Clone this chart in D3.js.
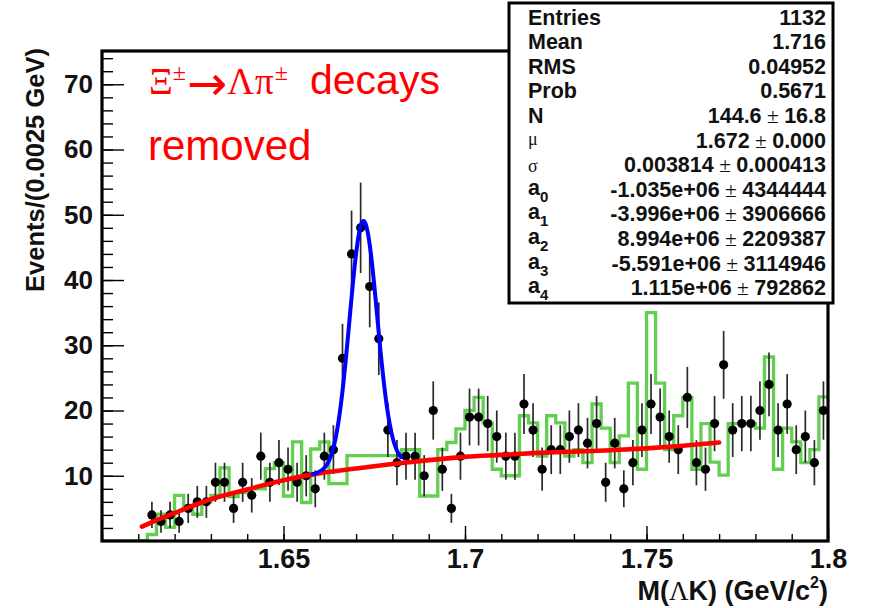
<!DOCTYPE html>
<html>
<head>
<meta charset="utf-8">
<script src="https://cdn.jsdelivr.net/npm/d3@7"></script>
<style>
  html, body { margin: 0; padding: 0; background: #fff; }
  svg { display: block; }
</style>
</head>
<body>
<svg id="chart" width="874" height="608"></svg>
<script>
// ---- data: Lambda-K invariant mass, 80 bins of 0.0025 GeV from 1.6 GeV ----
const binLow = 1.6;
const binWidth = 0.0025;
const dataCounts = [
  0, 0, 0, 0, 0,   4, 3, 4, 3, 5,   6, 6, 9, 9, 5,   9, 7, 13, 9, 12,
  11, 9, 10, 8, 13,   14, 28, 44, 48, 39,   31, 17, 12, 13, 13,   10, 20, 11, 5, 13,
  19, 19, 18, 16, 13,   13, 21, 17, 11, 14,   14, 16, 17, 15, 18,   9, 15, 8, 12, 17,
  21, 19, 16, 14, 22,   12, 11, 18, 27, 17,   18, 18, 20, 24, 17,   21, 14, 16, 12, 20
];
// comparison sample (green histogram)
const compCounts = [
  0, 0, 0, 0, 0,   1, 4.1, 2.1, 7, 5.3,   4.1, 6, 7, 11.2, 6.8,   7.4, 8, 8, 11.1, 12,
  6.9, 15.2, 5.9, 14.1, 15.2,   8.8, 8.8, 13.1, 13.1, 13.1,   13.1, 13.1, 13.1, 14, 14,   6.9, 6.9, 14, 15.1, 17.2,
  20, 22, 18.1, 11, 10,   10, 19.2, 18.1, 13, 19.2,   18.1, 13, 14, 12, 21,   17.3, 12, 16.1, 24.2, 11,
  35, 24.2, 14, 19.2, 22,   11, 18, 12.1, 10.1, 18,   18, 18, 17.3, 28.2, 11,   17.3, 15.2, 12, 14, 22.1
];
// polynomial background of the fit, sampled along the curve
const bgMass = [1.611, 1.615, 1.62, 1.625, 1.63, 1.64, 1.65, 1.66, 1.67, 1.68, 1.69, 1.70, 1.71, 1.72, 1.73, 1.74, 1.75, 1.76, 1.77];
const bgLevel = [2.2, 3.2, 4.3, 5.4, 6.4, 7.9, 9.3, 10.4, 11.1, 11.8, 12.4, 12.9, 13.2, 13.5, 13.7, 13.9, 14.2, 14.6, 15.1];
// Gaussian signal parameters of the fit
const fitN = 144.6, fitMu = 1.672, fitSigma = 0.003814;
const peakRange = [1.658, 1.6825];
// axis ticks
const xMajorTicks = [1.65, 1.7, 1.75, 1.8];
const xMinorTicks = d3.range(1.60, 1.8001, 0.01);
const yMajorTicks = [10, 20, 30, 40, 50, 60, 70];
const yMinorTicks = d3.range(2, 75, 2);
// statistics box rows
const statLabels = ["Entries", "Mean", "RMS", "Prob", "N", "\u03bc", "\u03c3", "a0", "a1", "a2", "a3", "a4"];
const statValues = ["1132", "1.716", "0.04952", "0.5671", "144.6 \u00b1 16.8", "1.672 \u00b1 0.000",
  "0.003814 \u00b1 0.000413", "-1.035e+06 \u00b1 4344444", "-3.996e+06 \u00b1 3906666",
  "8.994e+06 \u00b1 2209387", "-5.591e+06 \u00b1 3114946", "1.115e+06 \u00b1 792862"];

// ---- layout ----
const svg = d3.select("#chart");
const frame = { left: 102, right: 828, top: 51, bottom: 541 };
const x = d3.scaleLinear().domain([1.6, 1.8]).range([frame.left, frame.right]);
const y = d3.scaleLinear().domain([0, 75.1]).range([frame.bottom, frame.top]);

const sans = "'Liberation Sans', Arial, Helvetica, sans-serif";
const serif = "'Liberation Serif', 'Times New Roman', serif";

const bins = dataCounts.map((c, i) => ({
  lo: binLow + i * binWidth,
  hi: binLow + (i + 1) * binWidth,
  mid: binLow + (i + 0.5) * binWidth,
  count: c,
  comp: compCounts[i]
}));

const plot = svg.append("g");
const clipId = "plotclip";
svg.append("clipPath").attr("id", clipId).append("rect")
  .attr("x", frame.left).attr("y", frame.top)
  .attr("width", frame.right - frame.left).attr("height", frame.bottom - frame.top);

// green comparison histogram as a step outline
const stepPts = [];
bins.forEach(b => { stepPts.push([b.lo, b.comp]); stepPts.push([b.hi, b.comp]); });
plot.append("path")
  .attr("clip-path", `url(#${clipId})`)
  .attr("d", d3.line().x(d => x(d[0])).y(d => y(d[1]))(stepPts))
  .attr("fill", "none").attr("stroke", "#62cf50").attr("stroke-width", 3.3)
  .attr("stroke-linejoin", "miter");

// data points with sqrt(N) errors
const pts = bins.filter(b => b.count > 0);
plot.append("g").selectAll("line").data(pts).join("line")
  .attr("x1", d => x(d.mid)).attr("x2", d => x(d.mid))
  .attr("y1", d => y(d.count - Math.sqrt(d.count)))
  .attr("y2", d => y(d.count + Math.sqrt(d.count)))
  .attr("stroke", "#2a2a2a").attr("stroke-width", 1.7);
plot.append("g").selectAll("circle").data(pts).join("circle")
  .attr("cx", d => x(d.mid)).attr("cy", d => y(d.count))
  .attr("r", 4.6).attr("fill", "#000");

// background polynomial (red)
const bgLine = d3.line().curve(d3.curveMonotoneX).x((d, i) => x(bgMass[i])).y(d => y(d));
plot.append("path").attr("d", bgLine(bgLevel))
  .attr("fill", "none").attr("stroke", "#ff0000").attr("stroke-width", 4.6)
  .attr("stroke-linecap", "round");

// signal + background (blue)
const bgAt = d3.scaleLinear().domain(bgMass).range(bgLevel);
const gaussAmp = fitN * binWidth / (fitSigma * Math.sqrt(2 * Math.PI));
const peakMass = d3.range(peakRange[0], peakRange[1] + 1e-9, 0.0002);
const peakLine = d3.line().x(d => x(d)).y(d => y(bgAt(d) + gaussAmp * Math.exp(-0.5 * ((d - fitMu) / fitSigma) ** 2)));
plot.append("path").attr("d", peakLine(peakMass))
  .attr("fill", "none").attr("stroke", "#0000ff").attr("stroke-width", 4)
  .attr("stroke-linejoin", "round").attr("stroke-linecap", "round");

// ---- axes (ticks drawn inward) ----
const xMinor = d3.axisBottom(x).tickValues(xMinorTicks).tickSize(-7).tickFormat("");
const xMajor = d3.axisBottom(x).tickValues(xMajorTicks).tickSize(-15).tickPadding(8)
  .tickFormat(d => d3.format("")(+d.toFixed(2)));
const gxMinor = svg.append("g").attr("transform", `translate(0,${frame.bottom})`).call(xMinor);
const gxMajor = svg.append("g").attr("transform", `translate(0,${frame.bottom})`).call(xMajor);

const yMinor = d3.axisLeft(y).tickValues(yMinorTicks).tickSize(-11).tickFormat("");
const yMajor = d3.axisLeft(y).tickValues(yMajorTicks).tickSize(-22).tickPadding(9);
const gyMinor = svg.append("g").attr("transform", `translate(${frame.left},0)`).call(yMinor);
const gyMajor = svg.append("g").attr("transform", `translate(${frame.left},0)`).call(yMajor);

[gxMinor, gxMajor, gyMinor, gyMajor].forEach(g => {
  g.select(".domain").remove();
  g.selectAll(".tick line").attr("stroke", "#000").attr("stroke-width", 1.4);
});
gxMajor.selectAll(".tick text").attr("font-family", sans).attr("font-weight", "bold")
  .attr("font-size", 27).attr("fill", "#111");
gyMajor.selectAll(".tick text").attr("font-family", sans).attr("font-weight", "bold")
  .attr("font-size", 26).attr("fill", "#111");

// frame
svg.append("rect")
  .attr("x", frame.left).attr("y", frame.top)
  .attr("width", frame.right - frame.left).attr("height", frame.bottom - frame.top)
  .attr("fill", "none").attr("stroke", "#000").attr("stroke-width", 3.2);

// axis titles
svg.append("text")
  .attr("x", frame.right).attr("y", 600).attr("text-anchor", "end")
  .attr("font-family", sans).attr("font-weight", "bold").attr("font-size", 27).attr("fill", "#111")
  .call(t => {
    t.append("tspan").text("M(");
    t.append("tspan").attr("font-family", serif).attr("font-weight", "normal").text("\u039b");
    t.append("tspan").text("K) (GeV/c");
    t.append("tspan").attr("font-size", 16).attr("dy", -12).text("2");
    t.append("tspan").attr("dy", 12).text(")");
  });

svg.append("text")
  .attr("transform", "translate(44,170) rotate(-90)").attr("text-anchor", "middle")
  .attr("font-family", sans).attr("font-weight", "bold").attr("font-size", 25.5).attr("fill", "#111")
  .text("Events/(0.0025 GeV)");

// ---- annotation ----
const note = svg.append("text").attr("x", 149).attr("y", 94).attr("fill", "#ff0000")
  .attr("font-size", 37).attr("font-family", serif);
note.append("tspan").text("\u039e");
note.append("tspan").attr("font-size", 24).attr("dy", -14).text("\u00b1");
note.append("tspan").attr("dy", 20).attr("dx", 1).attr("font-family", "'DejaVu Sans', sans-serif")
  .attr("font-size", 48).text("\u2192");
note.append("tspan").attr("dy", -6).text("\u039b");
note.append("tspan").attr("dx", 1).text("\u03c0");
note.append("tspan").attr("font-size", 24).attr("dy", -14).attr("dx", 1).text("\u00b1");
note.append("tspan").attr("dy", 14).attr("x", 310).attr("font-family", sans).attr("font-size", 41).text("decays");
svg.append("text").attr("x", 148).attr("y", 160).attr("fill", "#ff0000")
  .attr("font-family", sans).attr("font-size", 42).text("removed");

// ---- statistics box ----
const box = { x: 509, y: 3, w: 324, h: 300 };
svg.append("rect").attr("x", box.x).attr("y", box.y).attr("width", box.w).attr("height", box.h)
  .attr("fill", "#fff").attr("stroke", "#000").attr("stroke-width", 3);
const rowTop = 24.5, rowStep = 24.6;
statLabels.forEach((lab, i) => {
  const yy = rowTop + i * rowStep;
  const t = svg.append("text").attr("x", 528).attr("y", yy)
    .attr("font-family", sans).attr("font-weight", "bold").attr("font-size", 21.5).attr("fill", "#111");
  if (lab === "\u03bc" || lab === "\u03c3") {
    t.attr("font-family", serif).attr("font-weight", "normal").attr("font-size", 18)
      .attr("y", yy - (lab === "\u03bc" ? 3 : 0)).text(lab);
  } else if (lab.length === 2 && lab[0] === "a") {
    t.attr("y", yy - 2);
    t.append("tspan").text("a");
    t.append("tspan").attr("font-size", 15).attr("dy", 7).text(lab[1]);
  } else {
    t.text(lab);
  }
  const v = svg.append("text").attr("x", 826).attr("y", yy).attr("text-anchor", "end")
    .attr("font-family", sans).attr("font-weight", "bold").attr("font-size", 21.5).attr("fill", "#111");
  const parts = statValues[i].split(" \u00b1 ");
  v.append("tspan").text(parts[0]);
  if (parts.length > 1) {
    v.append("tspan").attr("font-family", serif).attr("font-weight", "normal").text(" \u00b1 ");
    v.append("tspan").text(parts[1]);
  }
});
</script>
</body>
</html>
